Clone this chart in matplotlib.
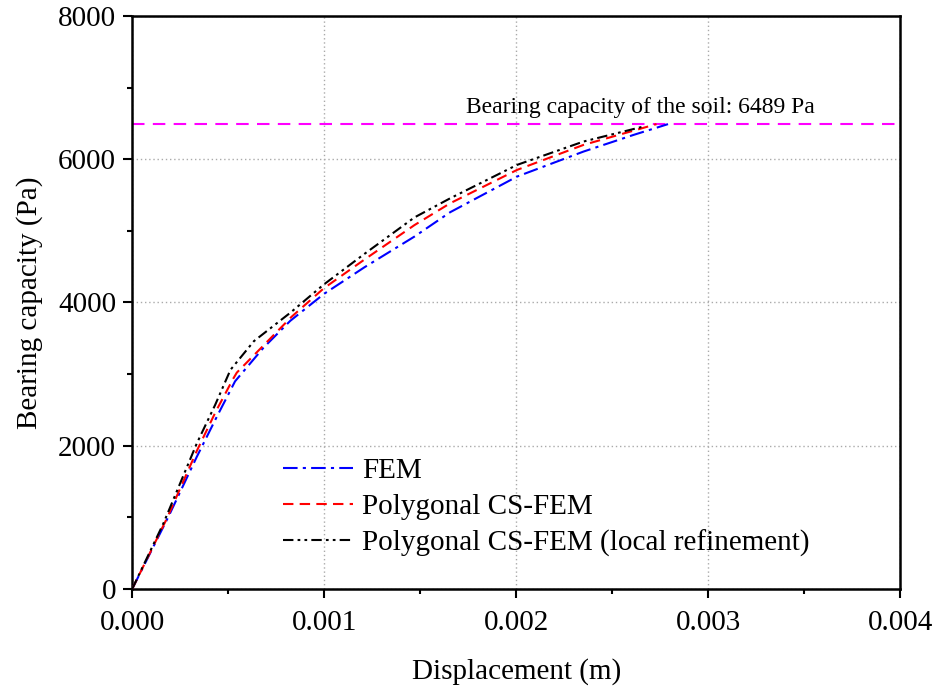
import matplotlib
matplotlib.use("Agg")
import matplotlib.pyplot as plt
from matplotlib.ticker import MultipleLocator

# load-displacement curves (displacement in m, bearing capacity in Pa)
fem_x = [0.0, 0.000189, 0.000337, 0.000441, 0.000536, 0.000684, 0.000823, 0.000998,
         0.00121, 0.00147, 0.001656, 0.002004, 0.00235, 0.00261, 0.00279]
fem_y = [0, 1010, 1848, 2406, 2900, 3369, 3743, 4118,
         4492, 4920, 5260, 5757, 6106, 6338, 6489]

cs_x = [0.0, 0.000180, 0.000337, 0.000436, 0.000525, 0.000545, 0.000684, 0.000830, 0.000998,
        0.00121, 0.00147, 0.001656, 0.002004, 0.00235, 0.00273]
cs_y = [0, 980, 1930, 2480, 2930, 3021, 3400, 3800, 4198,
        4600, 5080, 5385, 5850, 6199, 6489]

ref_x = [0.0, 0.000163, 0.000337, 0.000432, 0.000512, 0.000634, 0.000825, 0.000998,
         0.00121, 0.00147, 0.001656, 0.002004, 0.00235, 0.00266]
ref_y = [0, 917, 2035, 2569, 3060, 3460, 3860, 4251,
         4679, 5187, 5454, 5920, 6246, 6454]

soil_capacity = 6489

plt.rcParams['font.family'] = ['Liberation Serif', 'DejaVu Serif']

fig = plt.figure(figsize=(9.37, 6.89), dpi=100)
ax = fig.add_axes([0.141, 0.145, 0.820, 0.832])

ax.axhline(soil_capacity, color='#ff00ff', lw=1.5, ls=(0, (6, 4)), zorder=2)
ax.text(0.002646, soil_capacity + 90, 'Bearing capacity of the soil: %d Pa' % soil_capacity,
        ha='center', va='bottom', fontsize=17)

ax.plot(fem_x, fem_y, color='blue', lw=1.5, ls=(0, (7, 2.5, 1.5, 2.5)), label='FEM', zorder=3)
ax.plot(cs_x, cs_y, color='red', lw=1.5, ls=(0, (5, 3)), label='Polygonal CS-FEM', zorder=3)
ax.plot(ref_x, ref_y, color='black', lw=1.5, ls=(0, (5, 2, 1.3, 2, 1.3, 2)),
        label='Polygonal CS-FEM (local refinement)', zorder=4)

ax.set_xlim(0, 0.004)
ax.set_ylim(0, 8000)
ax.xaxis.set_major_locator(MultipleLocator(0.001))
ax.xaxis.set_minor_locator(MultipleLocator(0.0005))
ax.yaxis.set_major_locator(MultipleLocator(2000))
ax.yaxis.set_minor_locator(MultipleLocator(1000))
ax.xaxis.set_major_formatter(plt.FormatStrFormatter('%.3f'))

ax.grid(True, which='major', color='#aaaaaa', ls=(0, (1, 2)), lw=1.0)
ax.tick_params(which='major', direction='out', length=6.5, width=1.5, labelsize=21, pad=5)
ax.tick_params(axis='x', which='major', pad=8.5)
ax.tick_params(which='minor', direction='out', length=3.5, width=1.5)
for s in ax.spines.values():
    s.set_linewidth(1.8)

ax.set_xlabel('Displacement (m)', fontsize=21, labelpad=16)
ax.set_ylabel('Bearing capacity (Pa)', fontsize=21, labelpad=11)

ax.legend(loc='lower left', bbox_to_anchor=(0.17, 0.021), frameon=False, fontsize=21,
          handlelength=2.4, handletextpad=0.3, labelspacing=0.32, borderpad=0.2)

fig.savefig('out.png', dpi=100)
